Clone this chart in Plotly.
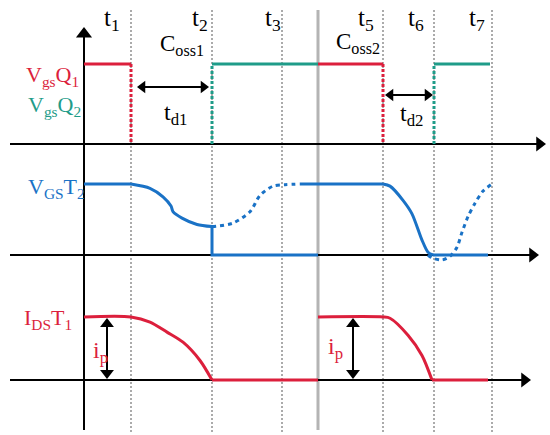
import plotly.graph_objects as go

W, H = 550, 435
X0PX = 84  # pixel column of time origin

# ---------------- data ----------------
# time markers (arbitrary time units)
t_marks = [47, 128, 198, 299, 350, 408]
t_names = ["t<sub>1</sub>", "t<sub>2</sub>", "t<sub>3</sub>", "t<sub>5</sub>", "t<sub>6</sub>", "t<sub>7</sub>"]
t_half = 234  # half-period boundary

# gate signals (top panel, level 0/1)
q1_on = [[0, 47], [234, 299]]
q1_off_edges = [47, 299]
q2_on = [[128, 234], [350, 406]]
q2_on_edges = [128, 350]

# VGS T2 (middle panel)
vgs_flat1_t = [0, 47];            vgs_flat1_v = [1, 1]
vgs_fall1_t = [47, 66, 79, 87, 89, 98, 113, 128]
vgs_fall1_v = [1.0, 0.94, 0.82, 0.69, 0.61, 0.52, 0.43, 0.40]
vgs_drop_t = [128, 128, 234];     vgs_drop_v = [0.40, 0, 0]
vgs_rise1_t = [128, 149, 166, 176, 189, 201, 216]
vgs_rise1_v = [0.40, 0.45, 0.61, 0.84, 0.97, 0.99, 1.0]
vgs_flat2_t = [216, 299];         vgs_flat2_v = [1, 1]
vgs_fall2_t = [299, 306, 319, 328, 338, 344, 349]
vgs_fall2_v = [1.0, 0.97, 0.77, 0.58, 0.21, 0.04, 0.0]
vgs_flat3_t = [349, 404];         vgs_flat3_v = [0, 0]
vgs_rise2_t = [344, 348, 358, 366, 373, 378, 384, 391, 399, 408]
vgs_rise2_v = [0.0, -0.04, -0.07, -0.02, 0.11, 0.32, 0.54, 0.73, 0.90, 1.0]

# IDS T1 (bottom panel)
ids1_t = [0, 47, 66, 83, 99, 116, 128]
ids1_v = [1, 1, 0.92, 0.76, 0.60, 0.31, 0]
ids_zero1_t = [128, 234]; ids_zero1_v = [0, 0]
ids2_t = [234, 299, 306, 324, 338, 348]
ids2_v = [1, 1, 0.98, 0.71, 0.39, 0]
ids_zero2_t = [348, 404]; ids_zero2_v = [0, 0]

RED = "#dc1f3c"
TEAL = "#1f9c89"
BLUE = "#1a72c6"
GRAY = "#ababab"
FONT = "Liberation Serif"

# pixel rows of level 0 and level 1 for each panel axis
PANEL = {"y": (144, 64), "y2": (255, 184), "y3": (380, 317)}


def yr(px0, px1):
    s = px0 - px1
    return [(px0 - H) / s, px0 / s]


def val(axis, px):
    p0, p1 = PANEL[axis]
    return (p0 - px) / (p0 - p1)


def py(p):
    return 1 - p / H


fig = go.Figure()


def line(t, v, color, axis, width=3, dash=None, shape="linear"):
    fig.add_trace(go.Scatter(x=t, y=v, mode="lines", yaxis=axis, hoverinfo="skip",
                             line=dict(color=color, width=width, dash=dash, shape=shape,
                                       smoothing=0.8)))


def head(xpx, ypx, axis, direction, size):
    # triangle marker whose tip lies at (xpx, ypx)
    r = size / 2
    dx, dy = {"right": (-r, 0), "left": (r, 0), "up": (0, r), "down": (0, -r)}[direction]
    fig.add_trace(go.Scatter(x=[xpx + dx - X0PX], y=[val(axis, ypx + dy)], mode="markers",
                             yaxis=axis, hoverinfo="skip",
                             marker=dict(symbol="triangle-" + direction, size=size,
                                         color="black", line=dict(width=0))))


def hline_arrow(x0px, x1px, ypx, axis, size, both=False):
    a = x0px + (size / 2 if both else 0)
    b = x1px - size / 2
    line([a - X0PX, b - X0PX], [val(axis, ypx)] * 2, "black", axis, width=2)
    head(x1px, ypx, axis, "right", size)
    if both:
        head(x0px, ypx, axis, "left", size)


def vline_arrow(xpx, ytop, ybot, axis, size, both=False):
    a = ytop + size / 2
    b = ybot - (size / 2 if both else 0)
    line([xpx - X0PX] * 2, [val(axis, a), val(axis, b)], "black", axis, width=2)
    head(xpx, ytop, axis, "up", size)
    if both:
        head(xpx, ybot, axis, "down", size)


# gridlines (time markers) + half-period line
shapes = []
for tm in t_marks:
    shapes.append(dict(type="line", xref="x", yref="paper", x0=tm, x1=tm,
                       y0=py(10), y1=py(432), layer="below",
                       line=dict(color=GRAY, width=2, dash="2px,2px")))
shapes.append(dict(type="line", xref="x", yref="paper", x0=t_half, x1=t_half,
                   y0=py(10), y1=py(430), layer="below",
                   line=dict(color="#b4b4b4", width=3)))

# axes
hline_arrow(10, 546, 144, "y", 13)
hline_arrow(10, 539, 255, "y2", 13)
hline_arrow(10, 531, 380, "y3", 13)
vline_arrow(84, 27, 430, "y", 14)

# top panel
for seg in q1_on:
    line(seg, [1, 1], RED, "y")
for e in q1_off_edges:
    line([e, e], [1, 0], RED, "y", dash="3px,2px")
for seg in q2_on:
    line(seg, [1, 1], TEAL, "y")
for e in q2_on_edges:
    line([e, e], [0, 1], TEAL, "y", dash="3px,2px")

# middle panel
line(vgs_flat1_t, vgs_flat1_v, BLUE, "y2")
line(vgs_fall1_t, vgs_fall1_v, BLUE, "y2", shape="spline")
line(vgs_drop_t, vgs_drop_v, BLUE, "y2")
line(vgs_rise1_t, vgs_rise1_v, BLUE, "y2", dash="4px,4px", shape="spline")
line(vgs_flat2_t, vgs_flat2_v, BLUE, "y2")
line(vgs_fall2_t, vgs_fall2_v, BLUE, "y2", shape="spline")
line(vgs_flat3_t, vgs_flat3_v, BLUE, "y2")
line(vgs_rise2_t, vgs_rise2_v, BLUE, "y2", dash="4px,4px", shape="spline")

# bottom panel
line(ids1_t, ids1_v, RED, "y3", shape="spline")
line(ids_zero1_t, ids_zero1_v, RED, "y3")
line(ids2_t, ids2_v, RED, "y3", shape="spline")
line(ids_zero2_t, ids_zero2_v, RED, "y3")

# dead-time and ip double arrows
hline_arrow(137, 209, 87, "y", 11, both=True)
hline_arrow(385, 433, 95, "y", 11, both=True)
vline_arrow(107, 318, 379, "y3", 12, both=True)
vline_arrow(353, 318, 379, "y3", 12, both=True)

ann = []


def label(text, xpx, ypx, color="black", size=22):
    ann.append(dict(x=xpx - X0PX, y=py(ypx), xref="x", yref="paper", text=text,
                    showarrow=False, xanchor="center", yanchor="middle",
                    font=dict(family=FONT, size=size, color=color)))


for nm, xc in zip(t_names, [112, 200, 273, 366, 416, 477]):
    label(nm, xc, 19, size=25)
label("C<sub>oss1</sub>", 182, 45, size=23)
label("C<sub>oss2</sub>", 358, 43, size=23)
label("t<sub>d1</sub>", 175, 114, size=24)
label("t<sub>d2</sub>", 411, 115, size=24)
label("V<sub>gs</sub>Q<sub>1</sub>", 52, 76, RED)
label("V<sub>gs</sub>Q<sub>2</sub>", 54, 106, TEAL)
label("V<sub>GS</sub>T<sub>2</sub>", 56, 188, BLUE)
label("I<sub>DS</sub>T<sub>1</sub>", 48, 319, RED)
label("i<sub>p</sub>", 100, 352, RED, size=24)
label("i<sub>p</sub>", 335, 348, RED, size=24)

hid = dict(visible=False, fixedrange=True)
fig.update_layout(
    width=W, height=H, margin=dict(l=0, r=0, t=0, b=0),
    paper_bgcolor="white", plot_bgcolor="white", showlegend=False,
    hovermode=False,
    xaxis=dict(range=[-X0PX, W - X0PX], **hid),
    yaxis=dict(range=yr(*PANEL["y"]), domain=[0, 1], **hid),
    yaxis2=dict(range=yr(*PANEL["y2"]), overlaying="y", **hid),
    yaxis3=dict(range=yr(*PANEL["y3"]), overlaying="y", **hid),
    shapes=shapes, annotations=ann,
)
fig.write_html("out.html", config={"displayModeBar": False, "staticPlot": True},
               post_script="document.body.style.margin='0';document.body.style.overflow='hidden';")
